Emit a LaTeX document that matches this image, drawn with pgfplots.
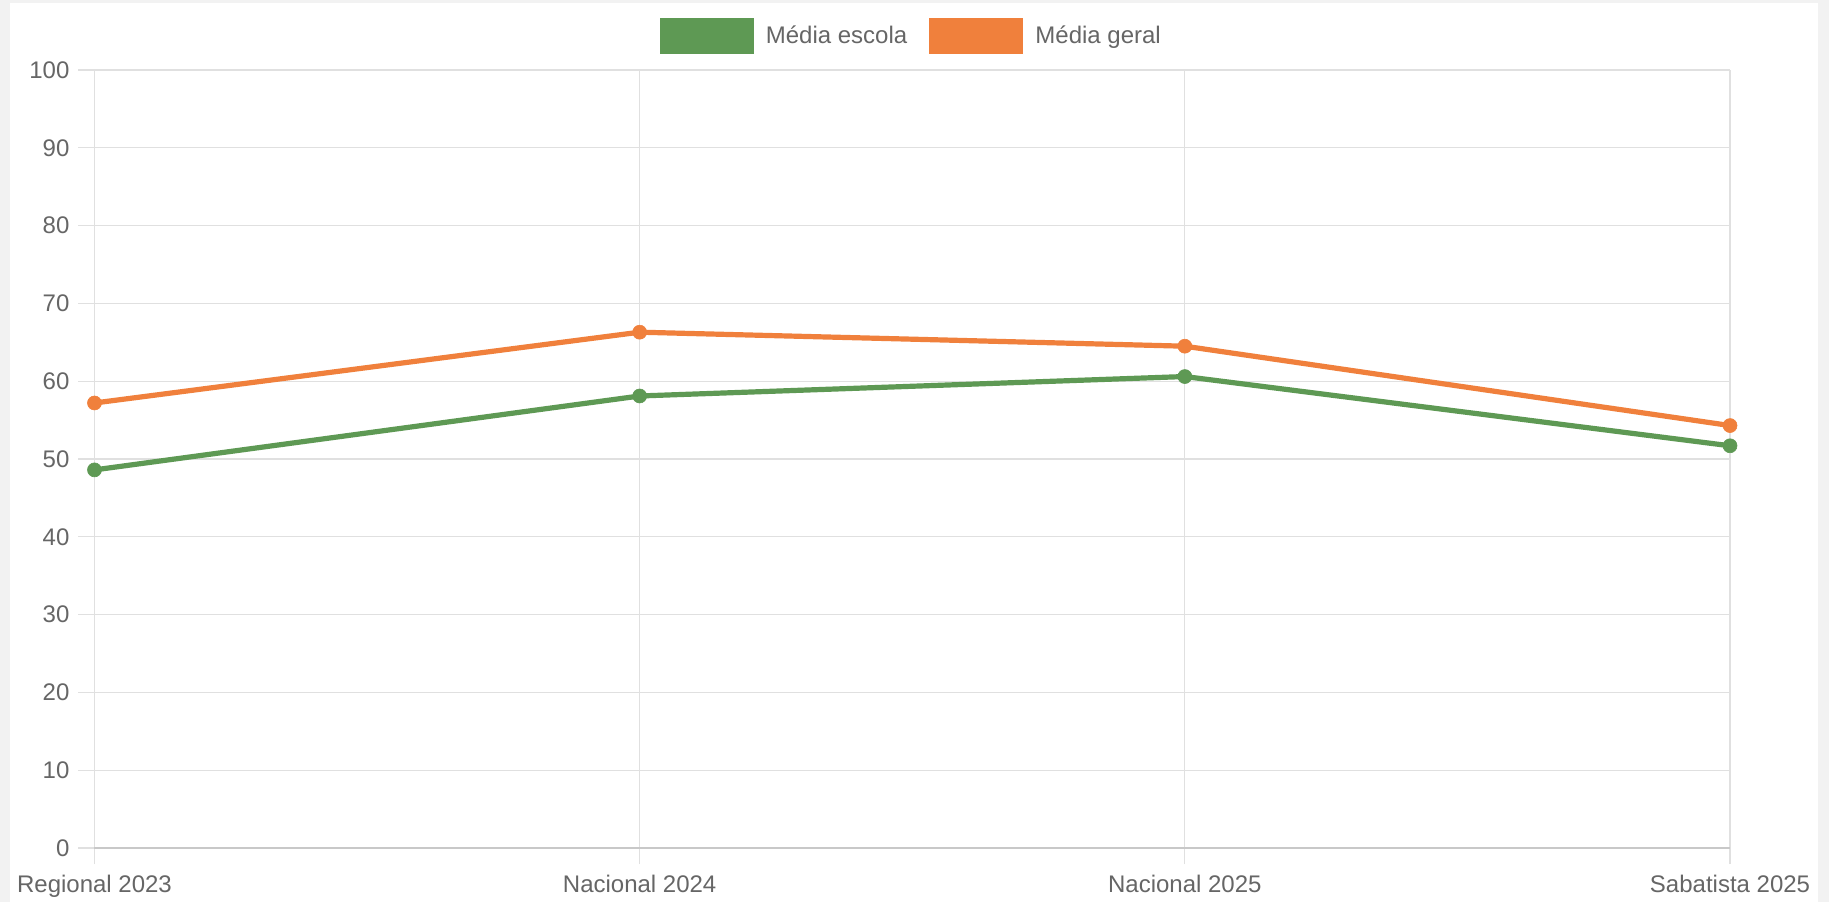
\documentclass[border=0pt]{standalone}
\usepackage{pgfplots}
\pgfplotsset{compat=1.18}
\usepackage{fontspec}
\setmainfont{Liberation Sans}
\definecolor{escola}{RGB}{94,153,84}
\definecolor{geral}{RGB}{240,128,60}
\definecolor{gridc}{RGB}{224,224,224}
\definecolor{axisc}{RGB}{200,200,200}
\definecolor{txt}{RGB}{102,102,102}
\definecolor{bg}{RGB}{242,242,242}
\begin{document}
\begin{tikzpicture}
\path[use as bounding box] (0,0) rectangle (914.5pt,451pt);
\fill[bg] (0,0) rectangle (914.5pt,451pt);
\fill[white] (5pt,0) rectangle (909pt,449.5pt);
\begin{axis}[
  at={(47.25pt,27pt)}, anchor=south west,
  scale only axis, width=817.75pt, height=389pt,
  xmin=0, xmax=3, ymin=0, ymax=100,
  xtick={0,1,2,3},
  xticklabels={Regional 2023, Nacional 2024, Nacional 2025, Sabatista 2025},
  ytick={0,10,...,100},
  axis line style={draw=none},
  grid=major,
  major grid style={color=gridc, line width=0.6pt},
  tick style={color=gridc, line width=0.6pt},
  tick align=outside, tick pos=left,
  major tick length=8pt,
  ticklabel style={font=\fontsize{12}{14}\selectfont, color=txt},
  /pgf/number format/assume math mode=true,
  xticklabel style={yshift=-2pt},
  yticklabel style={xshift=-1pt},
  legend columns=2,
  legend style={at={(0.5,1)}, anchor=center, yshift=17pt, draw=none, fill=none,
    font=\fontsize{12}{14}\selectfont, text=txt,
    /tikz/every odd column/.append style={column sep=4pt},
    /tikz/every even column/.append style={column sep=9pt}},
  legend image code/.code={\fill[#1] (0pt,-7.6pt) rectangle (44.5pt,7.6pt);},
  clip=false,
]
\draw[axisc, line width=0.8pt] (axis cs:0,0) -- (axis cs:3,0);
\addplot[color=escola, line width=2.6pt, mark=*, mark size=3.5pt, mark options={line width=0.3pt}] coordinates {
  (0,48.6) (1,58.1) (2,60.6) (3,51.7)};
\addlegendentry{Média escola}
\addplot[color=geral, line width=2.6pt, mark=*, mark size=3.5pt, mark options={line width=0.3pt}] coordinates {
  (0,57.2) (1,66.3) (2,64.5) (3,54.3)};
\addlegendentry{Média geral}
\end{axis}
\end{tikzpicture}
\end{document}
